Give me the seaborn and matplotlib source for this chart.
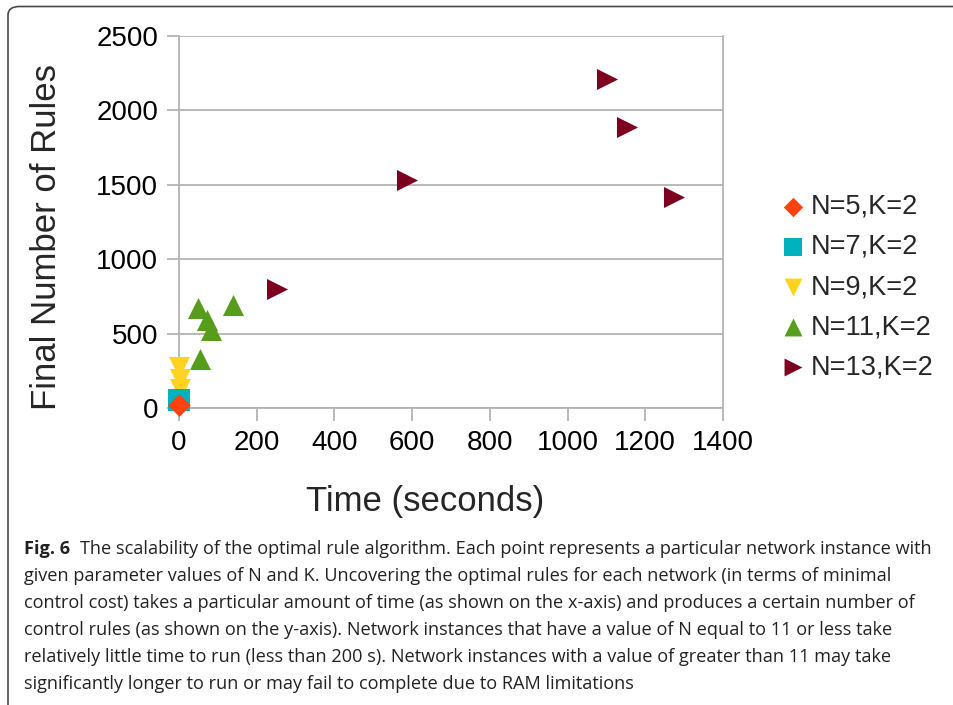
import matplotlib
matplotlib.use('Agg')
import matplotlib.pyplot as plt
import seaborn as sns
import pandas as pd
from matplotlib.patches import FancyBboxPatch

# --- data ---
series_labels = ['N=5,K=2', 'N=7,K=2', 'N=9,K=2', 'N=11,K=2', 'N=13,K=2']
n5_time = [1]
n5_rules = [20]
n7_time = [1]
n7_rules = [54]
n9_time = [1, 2, 2]
n9_rules = [273, 195, 127]
n11_time = [48, 71, 83, 138, 53]
n11_rules = [672, 591, 522, 692, 326]
n13_time = [251, 587, 1101, 1153, 1273]
n13_rules = [803, 1529, 2214, 1888, 1415]

series_colors = ['#FF420E', '#00B2BD', '#FFD320', '#579D1C', '#7E0021']
series_markers = ['D', 's', 'v', '^', '>']
series_sizes = [135, 250, 230, 230, 230]

caption_lines = [
    "The scalability of the optimal rule algorithm. Each point represents a particular network instance with",
    "given parameter values of N and K. Uncovering the optimal rules for each network (in terms of minimal",
    "control cost) takes a particular amount of time (as shown on the x-axis) and produces a certain number of",
    "control rules (as shown on the y-axis). Network instances that have a value of N equal to 11 or less take",
    "relatively little time to run (less than 200 s). Network instances with a value of greater than 11 may take",
    "significantly longer to run or may fail to complete due to RAM limitations",
]

frames = []
for lab, t, r in zip(series_labels,
                     [n5_time, n7_time, n9_time, n11_time, n13_time],
                     [n5_rules, n7_rules, n9_rules, n11_rules, n13_rules]):
    frames.append(pd.DataFrame({'time': t, 'rules': r, 'series': lab}))
df = pd.concat(frames, ignore_index=True)

sns.set_style('white')
plt.rcParams['font.family'] = ['Liberation Sans', 'DejaVu Sans']

W, H = 954, 705
fig = plt.figure(figsize=(W / 100, H / 100), dpi=100)
ax = fig.add_axes([179 / W, 1 - 408 / H, (723 - 179) / W, (408 - 36) / H])

grey = '#b3b3b3'
# earlier series sit on top of later ones, as in the reference
for i, (lab, col, mk, sz) in enumerate(zip(series_labels, series_colors,
                                           series_markers, series_sizes)):
    sns.scatterplot(data=df[df['series'] == lab], x='time', y='rules', ax=ax,
                    color=col, marker=mk, s=sz, linewidth=0, label=lab,
                    clip_on=False, zorder=10 - i)

ax.set_xlim(0, 1400)
ax.set_ylim(0, 2500)
ax.set_xticks(range(0, 1401, 200))
ax.set_yticks(range(0, 2501, 500))
ax.yaxis.grid(True, color=grey, linewidth=1.3)
ax.xaxis.grid(False)
ax.set_axisbelow(True)
for side in ['left', 'right', 'bottom']:
    ax.spines[side].set_visible(True)
    ax.spines[side].set_color(grey)
    ax.spines[side].set_linewidth(1.3)
ax.spines['top'].set_visible(False)
ax.tick_params(axis='both', direction='out', length=9, width=1.3, color=grey,
               labelsize=20, labelcolor='black')
ax.tick_params(axis='y', pad=6, left=True)
ax.tick_params(axis='x', pad=7, bottom=True)

# axis titles are a bit off-centre in the reference
ax.set_xlabel('Time (seconds)', fontsize=25, va='center')
ax.set_ylabel('Final Number of Rules', fontsize=25, va='center')
ax.xaxis.set_label_coords((425 - 179) / 544, (408 - 502) / 372)
ax.yaxis.set_label_coords((47 - 179) / 544, (408 - 237) / 372)

leg = ax.legend(loc='center left', bbox_to_anchor=(779.5 / W, 1 - 287 / H),
                bbox_transform=fig.transFigure, frameon=False, fontsize=19.5,
                handlelength=1.0, handletextpad=0.15, labelspacing=0.52,
                borderpad=0, borderaxespad=0, markerscale=0.85)

# outer frame of the figure panel
frame = FancyBboxPatch((8 / W, -0.1), 1.2, 1 - 6.5 / H + 0.1,
                       boxstyle='round,pad=0,rounding_size=0.012',
                       transform=fig.transFigure, facecolor='none',
                       edgecolor='#4a4a4a', linewidth=1.2)
fig.patches.append(frame)

# caption
cap_font = ['Open Sans', 'DejaVu Sans']
x0 = 24 / W
baselines = [554, 581, 608, 635, 662, 689]
fs = 14
fig.canvas.draw()
renderer = fig.canvas.get_renderer()
bold = fig.text(x0, 1 - baselines[0] / H, 'Fig. 6', fontsize=fs, fontweight='bold',
                family=cap_font, va='baseline', ha='left', color='#222222')
bw = bold.get_window_extent(renderer).width
first = fig.text(x0 + (bw + 10) / W, 1 - baselines[0] / H, caption_lines[0],
                 fontsize=fs, family=cap_font, va='baseline', ha='left',
                 color='#222222')
right = first.get_window_extent(renderer).x1
fs = fs * (938 - 24) / (right - 24)
bold.set_fontsize(fs)
bw = bold.get_window_extent(renderer).width
first.set_fontsize(fs)
first.set_x(x0 + (bw + 10) / W)
for line, b in zip(caption_lines[1:], baselines[1:]):
    fig.text(x0, 1 - b / H, line, fontsize=fs, family=cap_font,
             va='baseline', ha='left', color='#222222')

fig.savefig('out.png', dpi=100)
